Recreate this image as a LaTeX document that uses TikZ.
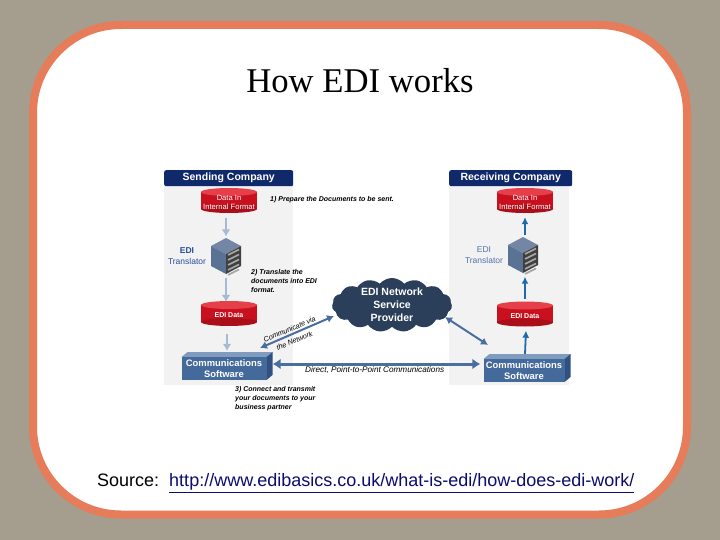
\documentclass[tikz,border=0pt]{standalone}
\usepackage{fontspec}
\setmainfont{Liberation Sans}
\newfontfamily\titlefont{Liberation Serif}
\usetikzlibrary{arrows.meta,shapes.geometric,shapes.symbols}
\definecolor{slidebg}{HTML}{A59D8D}
\definecolor{slideframe}{HTML}{E67C59}
\definecolor{panelgray}{HTML}{F2F2F2}
\definecolor{headnavy}{HTML}{10296B}
\definecolor{linknavy}{HTML}{0C0C70}
\definecolor{drumred}{HTML}{C8101E}
\definecolor{drumtop}{HTML}{E5404A}
\definecolor{softarrow}{HTML}{A6BAD3}
\definecolor{bluearrow}{HTML}{1F69AB}
\definecolor{steelarrow}{HTML}{4A6E9E}
\definecolor{boxfront}{HTML}{44699B}
\definecolor{boxtop}{HTML}{7F9BBE}
\definecolor{boxside}{HTML}{2F5080}
\definecolor{rackface}{HTML}{5A7294}
\definecolor{clouddark}{HTML}{2B3F5A}
\definecolor{transblue}{HTML}{274E96}
\tikzset{
	panel/.style={fill=panelgray, draw=none, minimum width=#1, minimum height=200pt, inner sep=0pt, anchor=north west},
	header/.style={fill=headnavy, rounded corners=2pt, text=white, minimum height=16pt, inner sep=0pt, font=\fontsize{10.5}{12}\selectfont\bfseries, anchor=north west},
	drum/.style={text=white, align=center, inner sep=0pt, minimum width=56pt, minimum height=25pt, font=\fontsize{7.6}{9}\selectfont},
	commbox/.style={fill=boxfront, text=white, align=center, inner sep=0pt, minimum width=#1, minimum height=23pt, font=\fontsize{9.4}{11}\selectfont\bfseries},
	rack/.style={minimum width=30pt, minimum height=37pt, inner sep=0pt},
	softflow/.style={draw=softarrow, line width=2.6pt, -{Latex[length=7pt,width=9pt]}},
	blueflow/.style={draw=bluearrow, line width=1.8pt, -{Latex[length=7pt,width=7pt]}},
	steelflow/.style={draw=steelarrow, line width=2pt, {Latex[length=7pt,width=8pt]}-{Latex[length=7pt,width=8pt]}},
	note/.style={align=left, inner sep=0pt, anchor=west, font=\fontsize{7}{9}\selectfont\itshape\bfseries},
}
\begin{document}
\begin{tikzpicture}[x=1pt, y=-1pt]
	\useasboundingbox (0,0) rectangle (720,540);
	\fill [slidebg] (0,0) rectangle (720,540);
	\draw [slideframe, line width=8pt, fill=white, rounded corners=88pt] (33,25) rectangle (687,514.5);
	\node (title) at (360,81) {\titlefont\fontsize{34.7}{38}\selectfont How EDI works};

	% panels
	\node [panel=129pt] (panelL) at (164,185) {};
	\node [panel=120pt] (panelR) at (449,185) {};
	\node [header, minimum width=129pt] (headL) at (164,170) {Sending Company};
	\node [header, minimum width=123pt] (headR) at (449,170) {Receiving Company};

	% drums
	\foreach \name/\xx/\yy/\txt in {dataL/229/200.5/{Data In\\Internal Format}, ediL/229/313.5/{\fontsize{7}{9}\selectfont\bfseries EDI Data}, dataR/525/200.5/{Data In\\Internal Format}, ediR/525/314/{\fontsize{7}{9}\selectfont\bfseries EDI Data}} {
		\fill [drumred] (\xx-28,\yy-8.5) rectangle (\xx+28,\yy+8.5);
		\fill [drumred!85!black] (\xx,\yy+8.5) ellipse [x radius=28pt, y radius=4pt];
		\fill [drumtop] (\xx,\yy-8.5) ellipse [x radius=28pt, y radius=4pt];
		\node [drum, yshift=-2pt] (\name) at (\xx,\yy) {\txt};
	}

	% servers
	\foreach \name/\xx/\yy in {servL/226/256, servR/523/255} {
		\node [rack] (\name) at (\xx,\yy) {};
		\fill [rackface!85!white] (\xx-15,\yy-10) -- (\xx,\yy-18) -- (\xx+15,\yy-10) -- (\xx,\yy-2) -- cycle;
		\fill [rackface] (\xx-15,\yy-10) -- (\xx,\yy-2) -- (\xx,\yy+18) -- (\xx-15,\yy+10) -- cycle;
		\fill [black!75] (\xx,\yy-2) -- (\xx+15,\yy-10) -- (\xx+15,\yy+10) -- (\xx,\yy+18) -- cycle;
		\foreach \i in {0,...,4}
			\draw [black!35, line width=1.6pt] (\xx+2,\yy+\i*5-1) -- ++(11,-5.5);
	}
	\node [font=\fontsize{8.5}{11}\selectfont, text=transblue, align=center] (transL) at (187,256) {\bfseries EDI\\Translator};
	\node [font=\fontsize{8.5}{11}\selectfont, text=transblue!80, align=center] (transR) at (484,255) {EDI\\Translator};

	% communication boxes
	\foreach \name/\xx/\yy/\bw/\txt in {commL/224/368.5/85/{Communications\\Software}, commR/524/370.5/81/{Communications\\Software}} {
		\fill [boxtop] (\xx-\bw/2,\yy-11.5) -- ++(6,-5) -- ++(\bw,0) -- ++(-6,5) -- cycle;
		\fill [boxside] (\xx+\bw/2,\yy-11.5) -- ++(6,-5) -- ++(0,23) -- ++(-6,5) -- cycle;
		\node [commbox=\bw pt] (\name) at (\xx,\yy) {\txt};
	}

	% cloud
	\node [cloud, cloud puffs=15, cloud puff arc=100, aspect=2.2, fill=clouddark, text=white, align=center, inner sep=-8pt, minimum width=120pt, minimum height=54pt, font=\fontsize{10.5}{13}\selectfont\bfseries] (netcloud) at (392,305) {EDI Network\\Service\\Provider};

	% arrows
	\draw [softflow] (servL.north |- dataL.south) ++(0,3) -- ([yshift=1pt]servL.north);
	\draw [softflow] (servL.south) ++(0,3) -- ([yshift=1pt]servL.south |- ediL.north);
	\draw [softflow] ([yshift=-6pt]ediL.south -| commL.north) ++(3,0) -- ([xshift=3pt,yshift=6pt]commL.north);
	\draw [blueflow] (commR.north) ++(1,-5) -- ([xshift=1pt,yshift=-2pt]ediR.south);
	\draw [blueflow] ([yshift=4pt]ediR.north) -- ([xshift=2pt,yshift=-3pt]servR.south);
	\draw [blueflow] ([xshift=2pt,yshift=1pt]servR.north) -- ([yshift=-2pt]dataR.south);
	\draw [steelflow, line width=3pt, {Latex[length=8pt,width=11pt]}-{Latex[length=8pt,width=11pt]}] ([xshift=6pt,yshift=4.5pt]commL.east) -- ([xshift=-3pt,yshift=6.5pt]commR.west);
	\coordinate (cloudW) at (334,316);
	\coordinate (cloudE) at (445,317);
	\coordinate (commLtop) at (260,348);
	\coordinate (commRtop) at (488,345);
	\draw [steelflow] (cloudW) -- (commLtop);
	\draw [steelflow] (cloudE) -- (commRtop);

	% notes
	\node [note] (noteA) at (270,200) {1) Prepare the Documents to be sent.};
	\node [note] (noteB) at (251,281) {2) Translate the\\documents into EDI\\format.};
	\node [note] (noteC) at (235,399) {3) Connect and transmit\\your documents to your\\business partner};
	\node [note, anchor=center, align=center, rotate=23, font=\fontsize{7.2}{12.5}\selectfont\itshape] (noteD) at (292,335) {Communicate via\\the Network};
	\node [note, font=\fontsize{8.2}{9}\selectfont\itshape] (noteE) at (305,370.5) {Direct, Point-to-Point Communications};

	\node [anchor=west, inner sep=0pt, font=\fontsize{18}{20}\selectfont] (source) at (97,483) {Source:\ \ \textcolor{linknavy}{\underline{http://www.edibasics.co.uk/what-is-edi/how-does-edi-work/}}};
\end{tikzpicture}
\end{document}
